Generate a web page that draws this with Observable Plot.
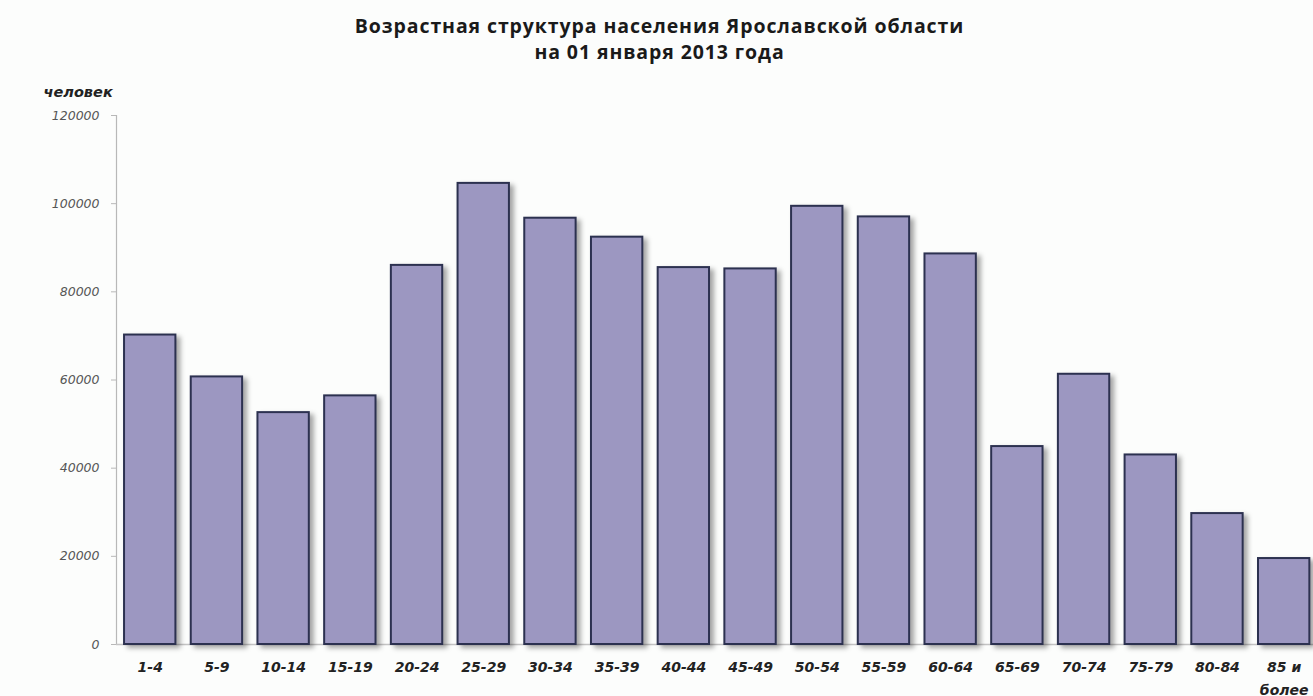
<!DOCTYPE html>
<html>
<head>
<meta charset="utf-8">
<script src="https://cdn.jsdelivr.net/npm/d3@7"></script>
<script src="https://cdn.jsdelivr.net/npm/@observablehq/plot@0.6"></script>
<style>
  html, body { margin: 0; padding: 0; background: #fcfdfc; }
  #title { width: 1313px; height: 80px; box-sizing: border-box; padding-top: 13px;
    text-align: center; font-family: "Open Sans", sans-serif; font-weight: bold;
    font-size: 19.5px; line-height: 26px; letter-spacing: 0.9px; color: #1a1a1a; }
  #title div { padding-left: 6px; }
  svg g[aria-label="bar"] { filter: drop-shadow(4px 3px 2.5px rgba(0,0,0,0.35)); }
</style>
</head>
<body>
<div id="title"><div>Возрастная структура населения Ярославской области</div><div>на 01 января 2013 года</div></div>
<div id="chart"></div>
<script>
const ageGroups = ["1-4","5-9","10-14","15-19","20-24","25-29","30-34","35-39","40-44","45-49","50-54","55-59","60-64","65-69","70-74","75-79","80-84","85 и\nболее"];
const population = [70200, 60700, 52600, 56400, 86000, 104600, 96700, 92400, 85500, 85200, 99400, 97000, 88600, 44900, 61300, 43000, 29700, 19500];
const yTicks = [0, 20000, 40000, 60000, 80000, 100000, 120000];
const yLabel = "человек";

const data = ageGroups.map((g, i) => ({group: g, value: population[i]}));

const chart = Plot.plot({
  width: 1313,
  height: 616,
  marginTop: 35,
  marginBottom: 52,
  marginLeft: 116,
  marginRight: 0,
  style: {background: "transparent", overflow: "visible"},
  x: {domain: ageGroups, padding: 0.23, round: false, range: [108.7, 1324.7], axis: null},
  y: {domain: [0, 120000], axis: null},
  marks: [
    Plot.frame({anchor: "left", stroke: "#b8b8b8", strokeWidth: 1.2}),
    Plot.ruleY([0], {stroke: "#c4c4c4", strokeWidth: 1.5}),
    Plot.barY(data, {x: "group", y: "value", fill: "#9c97c1", stroke: "#2c3150", strokeWidth: 2}),
    Plot.axisY({ticks: yTicks, tickSize: 5, tickPadding: 12, tickFormat: d => String(d),
      stroke: "#b8b8b8", fill: "#555", fontFamily: "DejaVu Sans", fontStyle: "italic", fontSize: 12.5, label: null}),
    Plot.axisX({tickSize: 0, tickPadding: 12, fill: "#222", fontFamily: "DejaVu Sans", fontStyle: "italic",
      fontWeight: "bold", fontSize: 14, lineHeight: 1.6, label: null}),
    Plot.text([yLabel], {frameAnchor: "top-left", dx: -73, dy: -29, textAnchor: "start", fill: "#222",
      fontFamily: "DejaVu Sans", fontStyle: "italic", fontWeight: "bold", fontSize: 14.5})
  ]
});
document.getElementById("chart").appendChild(chart);
</script>
</body>
</html>
